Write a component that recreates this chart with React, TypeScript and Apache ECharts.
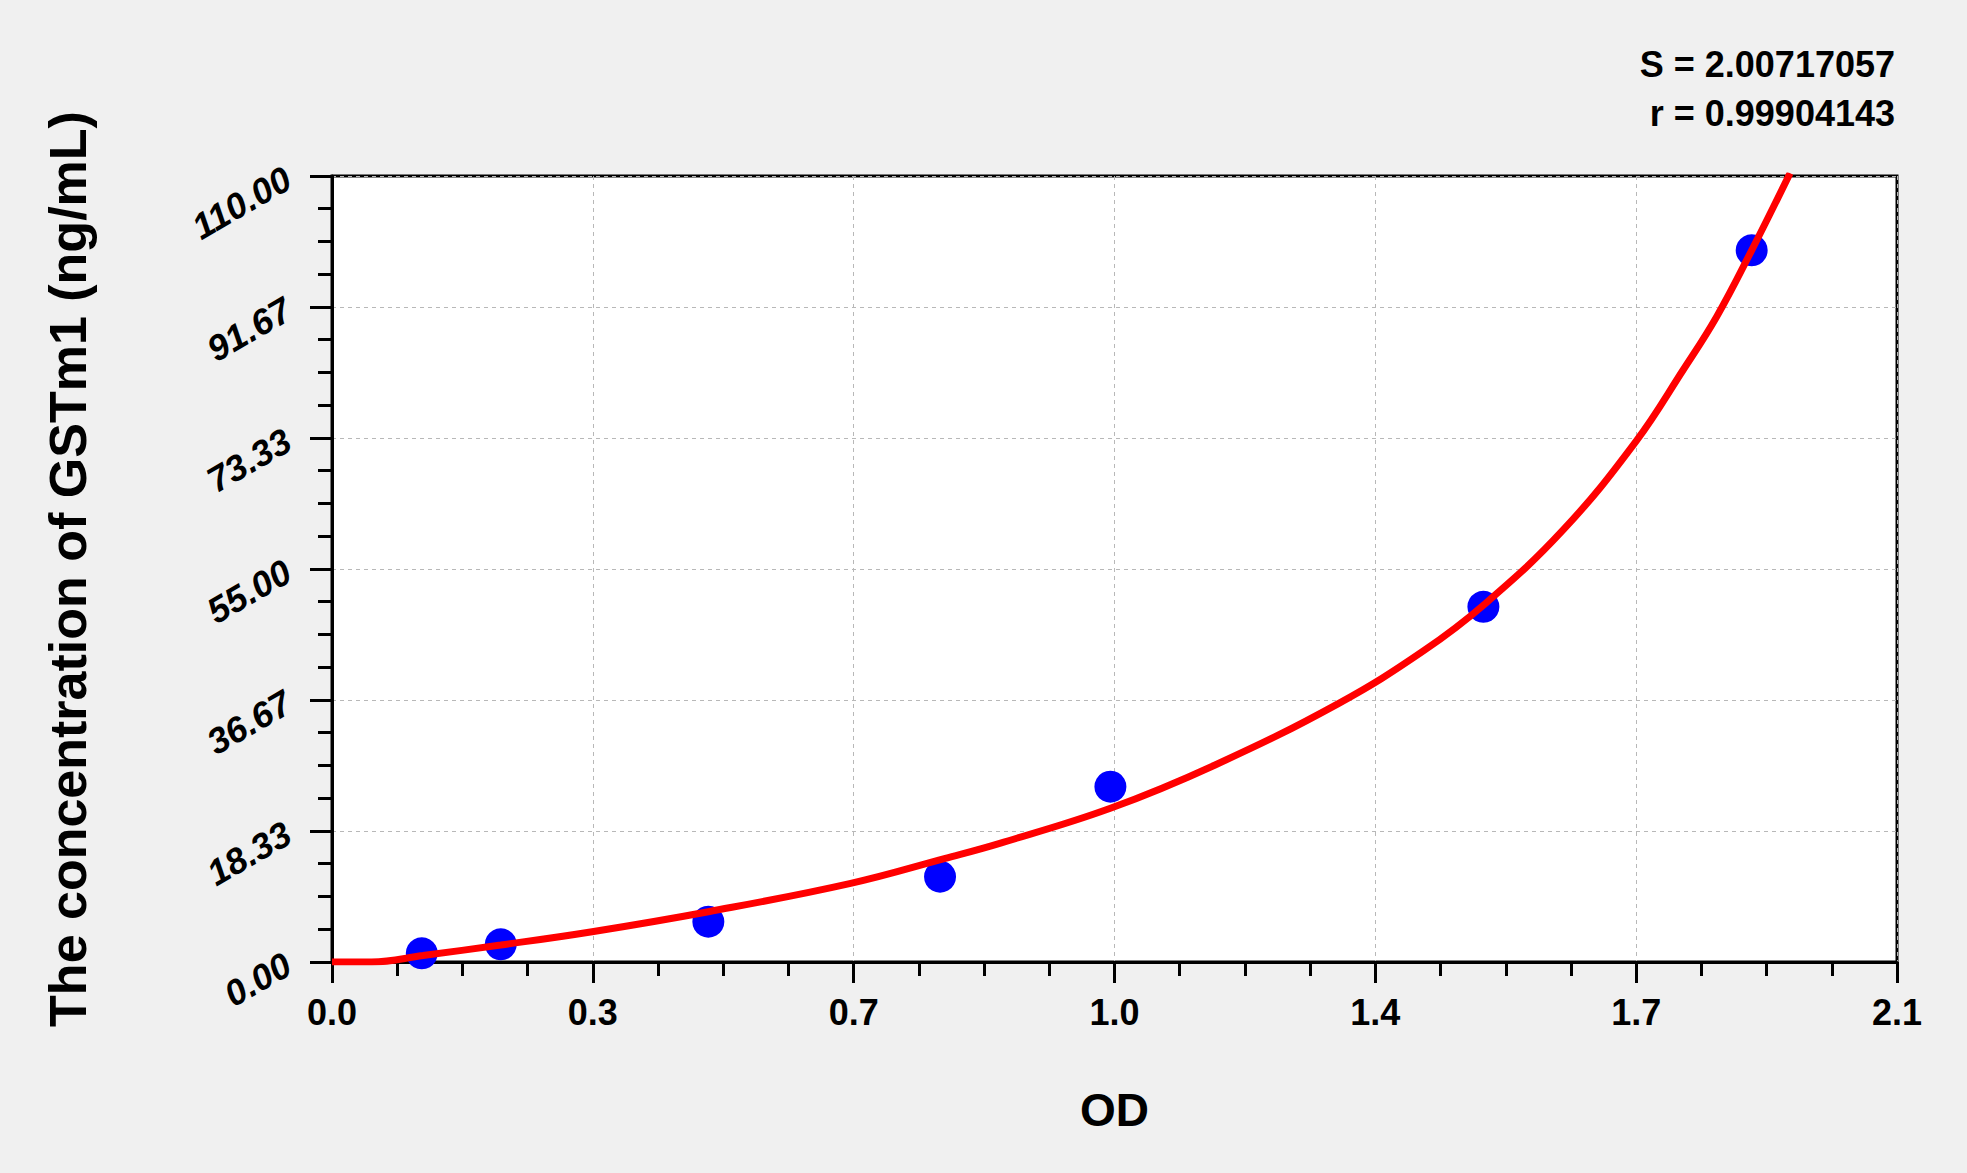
import { useEffect, useRef } from 'react';
import * as echarts from 'echarts';

// standard points (OD, concentration ng/mL)
const odValues = [0.1205, 0.2265, 0.505, 0.8159, 1.0445, 1.545, 1.905];
const concValues = [1.21, 2.47, 5.64, 11.94, 24.53, 49.7, 99.6];

// fitted curve
const fitOd = [
  0, 0.053, 0.122, 0.2265, 0.349, 0.505, 0.696, 0.823, 0.896, 1.0445, 1.185, 1.351, 1.464, 1.548,
  1.652, 1.75, 1.813, 1.858, 1.905, 1.9565,
];
const fitConc = [
  0, 0, 0.9, 2.38, 4.24, 7.04, 11.01, 14.51, 16.61, 21.51, 27.57, 36.2, 43.5, 50.2, 60.46, 72.9,
  82.85, 90.31, 99.6, 110.4,
];

const xTickLabels = ['0.0', '0.3', '0.7', '1.0', '1.4', '1.7', '2.1'];
const yTickLabels = ['0.00', '18.33', '36.67', '55.00', '73.33', '91.67', '110.00'];

const statLines = ['S = 2.00717057', 'r = 0.99904143'];

const X_MAX = 2.1;
const X_STEP = 0.35;
const Y_MAX = 110;
const Y_STEP = Y_MAX / 6;

const FONT = '"Liberation Sans", Arial, sans-serif';

export default function App() {
  const ref = useRef<HTMLDivElement>(null);

  useEffect(() => {
    document.body.style.margin = '0';
    const dom = ref.current;
    if (!dom) return;
    const chart = echarts.init(dom, undefined, { renderer: 'svg' });

    const tickStyle = { color: '#000', width: 3 };
    const gridLine = { show: true, lineStyle: { color: '#b8b8b8', width: 1, type: [4, 4] } };

    chart.setOption({
      animation: false,
      backgroundColor: '#f0f0f0',
      textStyle: { fontFamily: FONT },
      grid: {
        left: 332,
        right: 70,
        top: 176,
        bottom: 211,
        show: true,
        backgroundColor: '#fff',
        borderColor: '#000',
        borderWidth: 3,
      },
      xAxis: {
        type: 'value',
        min: 0,
        max: X_MAX,
        interval: X_STEP,
        name: 'OD',
        nameLocation: 'middle',
        nameGap: 125,
        nameTextStyle: { fontSize: 46, fontWeight: 'bold', color: '#000', fontFamily: FONT },
        axisLine: { show: true, lineStyle: tickStyle },
        axisTick: { show: true, inside: false, length: 21, lineStyle: tickStyle },
        minorTick: { show: true, splitNumber: 4, length: 14, lineStyle: tickStyle },
        splitLine: gridLine,
        axisLabel: {
          margin: 32,
          fontSize: 36,
          fontWeight: 'bold',
          color: '#000',
          fontFamily: FONT,
          formatter: (v: number) => xTickLabels[Math.round(v / X_STEP)] ?? '',
        },
      },
      yAxis: {
        type: 'value',
        min: 0,
        max: Y_MAX,
        // a hair over 110/6 so the top tick is the axis max itself
        interval: 18.33333334,
        name: 'The concentration of GSTm1 (ng/mL)',
        nameLocation: 'middle',
        nameGap: 238,
        nameTextStyle: { fontSize: 52, fontWeight: 'bold', color: '#000', fontFamily: FONT },
        axisLine: { show: true, lineStyle: tickStyle },
        axisTick: { show: true, inside: false, length: 22, lineStyle: tickStyle },
        minorTick: { show: true, splitNumber: 4, length: 14, lineStyle: tickStyle },
        splitLine: gridLine,
        axisLabel: {
          margin: 44,
          rotate: 30,
          padding: [0, 0, 12, 0],
          fontSize: 36,
          fontWeight: 'bold',
          fontStyle: 'italic',
          color: '#000',
          fontFamily: FONT,
          formatter: (v: number) => yTickLabels[Math.round(v / Y_STEP)] ?? '',
        },
      },
      graphic: statLines.map((t, i) => ({
        type: 'text',
        right: 72,
        top: 46 + i * 49,
        style: { text: t, font: `bold 36px ${FONT}`, fill: '#000', textAlign: 'right' },
      })),
      series: [
        {
          type: 'scatter',
          data: odValues.map((x, i) => [x, concValues[i]]),
          symbol: 'circle',
          symbolSize: 32,
          itemStyle: { color: '#0000ff', opacity: 1 },
          z: 2,
        },
        {
          type: 'line',
          data: fitOd.map((x, i) => [x, fitConc[i]]),
          showSymbol: false,
          smooth: 0.4,
          clip: true,
          lineStyle: { color: '#ff0000', width: 7 },
          z: 3,
        },
      ],
    } as echarts.EChartsOption);

    return () => {
      if (!chart.isDisposed()) chart.dispose();
    };
  }, []);

  return <div ref={ref} style={{ width: 1967, height: 1173 }} />;
}
